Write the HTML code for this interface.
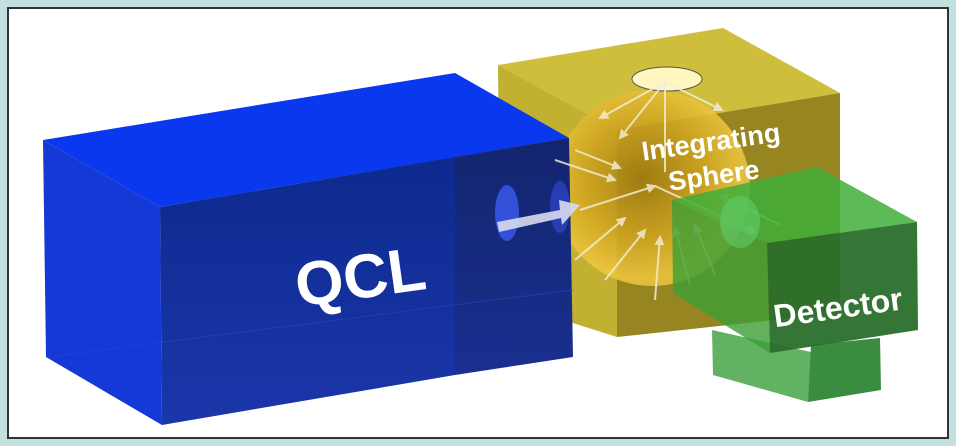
<!DOCTYPE html>
<html><head><meta charset="utf-8"><style>
html,body{margin:0;padding:0;background:#c2e0e0;}
svg{display:block}
text{font-family:"Liberation Sans",Arial,sans-serif;font-weight:bold;fill:#fff}
</style></head><body>
<svg width="956" height="446" viewBox="0 0 956 446" xmlns="http://www.w3.org/2000/svg">
<defs>
<radialGradient id="sph" cx="0.45" cy="0.45" r="0.6">
<stop offset="0" stop-color="#a07a10"/><stop offset="0.5" stop-color="#d0a420"/><stop offset="0.85" stop-color="#f0c840"/><stop offset="1" stop-color="#e6c048"/>
</radialGradient>
<linearGradient id="qf" x1="0" y1="0" x2="0" y2="1">
<stop offset="0" stop-color="#0d2a8e"/><stop offset="1" stop-color="#1b36aa"/>
</linearGradient>
<linearGradient id="qr" x1="0" y1="0" x2="0" y2="1">
<stop offset="0" stop-color="#13256e"/><stop offset="1" stop-color="#1a2f90"/>
</linearGradient>
<marker id="ah" viewBox="0 0 10 10" refX="8" refY="5" markerWidth="5" markerHeight="5" orient="auto"><path d="M0,0L10,5L0,10z" fill="#f4efd8"/></marker>
</defs>
<rect x="0" y="0" width="956" height="446" fill="#c2e0e0"/>
<rect x="8" y="8" width="940" height="430" fill="#fff" stroke="#333" stroke-width="2"/>

<!-- yellow box -->
<polygon points="498,65 723,28 840,93 617,130" fill="#cfbd3c"/>
<polygon points="498,65 617,130 617,337 500,300" fill="#c2b030"/>
<polygon points="617,130 840,93 840,313 617,337" fill="#968520"/>
<!-- sphere -->
<circle cx="652" cy="188" r="98" fill="url(#sph)" opacity="0.85"/>
<ellipse cx="667" cy="79" rx="35" ry="12" fill="#fff6c0" stroke="#555" stroke-width="1"/>

<!-- QCL box -->
<polygon points="43,140 455,73 569,138 160,207" fill="#0a38ee"/>
<polygon points="43,140 160,207 162,425 46,357" fill="#1439d6"/>
<polygon points="160,207 455,157 455,375 162,425" fill="url(#qf)"/>
<polygon points="455,157 569,138 573,357 455,375" fill="url(#qr)"/>
<line x1="46" y1="357" x2="573" y2="290" stroke="#2a48c0" stroke-width="1" opacity="0.6"/>
<text x="294" y="298" font-size="62" transform="rotate(-8 360 270)">QCL</text>

<!-- lenses -->
<ellipse cx="507" cy="213" rx="12" ry="28" fill="#3450d8"/>
<ellipse cx="560" cy="207" rx="10" ry="26" fill="#2a44c0" opacity="0.8"/>
<!-- big arrow -->
<polygon points="497,222 560,210 559,200 580,205 562,225 561,218 499,232" fill="#d8dcf0" opacity="0.9"/>

<!-- rays -->
<g stroke="#f4efd8" stroke-width="2" opacity="0.8" marker-end="url(#ah)">
<line x1="580" y1="210" x2="655" y2="186"/>
<line x1="655" y1="186" x2="755" y2="232"/>
<line x1="665" y1="82" x2="665" y2="172" marker-end="none"/>
<line x1="665" y1="82" x2="620" y2="138"/>
<line x1="665" y1="82" x2="722" y2="110"/>
<line x1="665" y1="82" x2="600" y2="118"/>
<line x1="575" y1="150" x2="620" y2="168"/>
<line x1="555" y1="160" x2="615" y2="180"/>
<line x1="575" y1="260" x2="625" y2="218"/>
<line x1="605" y1="280" x2="645" y2="230"/>
<line x1="655" y1="300" x2="660" y2="237"/>
<line x1="690" y1="285" x2="675" y2="228"/>
<line x1="715" y1="275" x2="695" y2="225"/>
<line x1="780" y1="225" x2="720" y2="195"/>
</g>
<text x="641" y="150" font-size="27" transform="rotate(-8 718 140)">Integrating</text>
<text x="668" y="184" font-size="27" transform="rotate(-8 718 175)">Sphere</text>

<!-- detector -->
<polygon points="712,330 811,352 808,402 713,375" fill="#48a448" opacity="0.85"/>
<polygon points="811,345 880,338 881,390 808,402" fill="#3a8c40"/>
<polygon points="672,200 817,167 917,222 767,243" fill="#3fae3a" opacity="0.85"/>
<polygon points="672,200 767,243 770,353 673,293" fill="#3c9e34" opacity="0.8"/>
<polygon points="767,243 917,222 918,330 770,353" fill="#2a6e2a" opacity="0.95"/>
<ellipse cx="740" cy="222" rx="20" ry="26" fill="#60d070" opacity="0.55"/>
<text x="772" y="318" font-size="32" transform="rotate(-8 840 300)">Detector</text>
</svg>
</body></html>
